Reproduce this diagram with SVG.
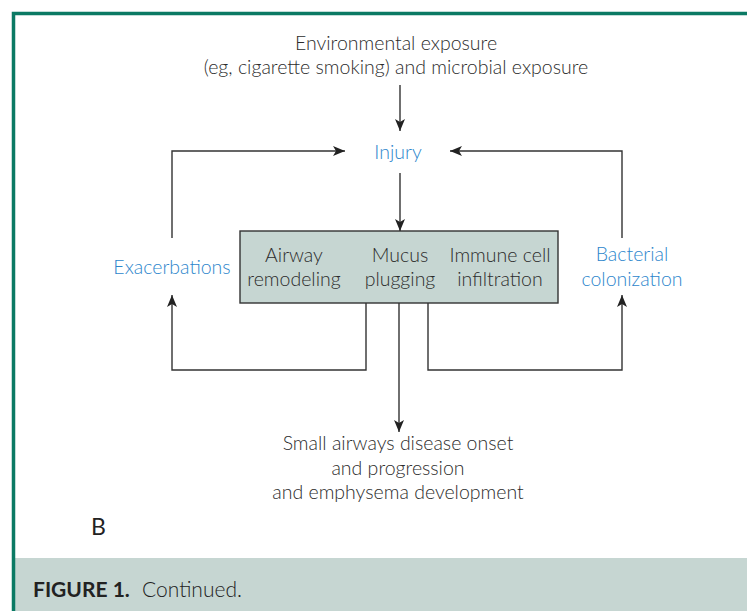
<svg xmlns="http://www.w3.org/2000/svg" width="747" height="611" viewBox="0 0 747 611">
<defs>
<marker id="ah" markerWidth="12" markerHeight="10" viewBox="0 0 12 10" refX="12" refY="5" orient="auto" markerUnits="userSpaceOnUse">
<path d="M0,0 L12,5 L0,10 L3,5 Z" fill="#222"/>
</marker>
<style>
.t{font-family:Lato,"Open Sans","Liberation Sans",sans-serif;font-weight:300;font-size:19.5px;fill:#2c2c2c;text-anchor:middle}
.b{fill:#2d86cc}
.ln{fill:none;stroke:#333;stroke-width:1.4}
.ar{marker-end:url(#ah)}
</style>
</defs>
<rect x="0" y="0" width="747" height="611" fill="#fff"/>
<rect x="14" y="558" width="733" height="53" fill="#c6d6d2"/>
<path d="M13.5,611 V13.5 H747" fill="none" stroke="#0b7a64" stroke-width="3.5"/>

<g id="env"><text class="t" x="396" y="50">Environmental exposure</text><text class="t" x="396" y="74">(eg, cigarette smoking) and microbial exposure</text></g>
<g id="injury"><text class="t b" x="398" y="159">Injury</text></g>
<g id="box"><rect x="240" y="231" width="318" height="72" fill="#c6d6d2" stroke="#333" stroke-width="1.4"/>
<text class="t" x="294" y="262">Airway</text><text class="t" x="294" y="286">remodeling</text>
<text class="t" x="400" y="262">Mucus</text><text class="t" x="400" y="286">plugging</text>
<text class="t" x="500" y="262">Immune cell</text><text class="t" x="500" y="286">infiltration</text></g>
<g id="exac"><text class="t b" x="172" y="274">Exacerbations</text></g>
<g id="bact"><text class="t b" x="632" y="261">Bacterial</text><text class="t b" x="632" y="286">colonization</text></g>
<g id="outcome"><text class="t" x="398" y="450">Small airways disease onset</text><text class="t" x="398" y="475">and progression</text><text class="t" x="398" y="499">and emphysema development</text></g>
<g id="label"><text x="91" y="535" font-family="Lato,'Open Sans',sans-serif" font-size="23" fill="#222">B</text></g>

<g id="connectors">
<path class="ln ar" d="M400,85 V131"/>
<path class="ln ar" d="M400,173 V231"/>
<path class="ln ar" d="M172,238 V151 H345"/>
<path class="ln ar" d="M622,238 V151 H450"/>
<path class="ln ar" d="M366,303 V370 H172 V295"/>
<path class="ln ar" d="M428,303 V370 H622 V295"/>
<path class="ln ar" d="M399,303 V432"/>
</g>

<g id="caption"><text x="33" y="597" font-family="Lato,'Open Sans',sans-serif" font-size="21" fill="#222"><tspan font-weight="bold">FIGURE 1.</tspan><tspan x="142" font-weight="300">Continued.</tspan></text></g>
</svg>
